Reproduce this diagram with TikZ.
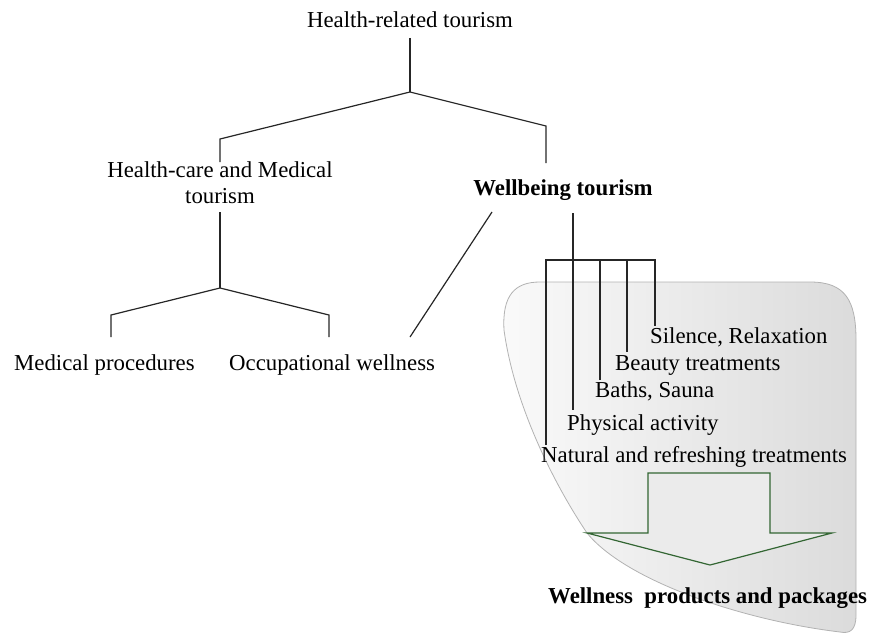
\documentclass[tikz,border=0pt]{standalone}
\usepackage{fontspec}
\setmainfont{Liberation Serif}
\begin{document}
\begin{tikzpicture}[x=1pt,y=-1pt,
  lbl/.style={inner sep=0pt,font=\fontsize{22.8}{26}\selectfont},
  tree/.style={line width=1.2pt,draw=black!85},
  blob/.style={draw=gray!60,line width=0.8pt,left color=gray!4,right color=gray!28},
  bigarrow/.style={draw=green!25!black!80,line width=1.2pt,fill=gray!16}]
\useasboundingbox (0,0) rectangle (872,634);
% shaded region
\path[blob] (540,282) -- (810,282) .. controls (845,282) and (856,300) .. (856,340)
  -- (856,615) .. controls (856,630) and (850,634) .. (840,632)
  .. controls (740,620) and (625,580) .. (587,533)
  .. controls (558,490) and (515,410) .. (504,330)
  .. controls (502,295) and (515,282) .. (540,282) -- cycle;
% labels
\node[lbl,anchor=base] (top) at (410,28) {Health-related tourism};
\node[lbl,anchor=base] (hc1) at (220,177) {Health-care and Medical};
\node[lbl,anchor=base] (hc2) at (220,203) {tourism};
\node[lbl,anchor=base,font=\fontsize{22.8}{26}\selectfont\bfseries] (wb) at (563,195) {Wellbeing tourism};
\node[lbl,anchor=base west] (mp) at (14,370) {Medical procedures};
\node[lbl,anchor=base west] (ow) at (229,370) {Occupational wellness};
\node[lbl,anchor=base west] (sr) at (650,343) {Silence, Relaxation};
\node[lbl,anchor=base west] (bt) at (615,370) {Beauty treatments};
\node[lbl,anchor=base west] (bs) at (595,397) {Baths, Sauna};
\node[lbl,anchor=base west] (pa) at (567,430) {Physical activity};
\node[lbl,anchor=base west] (nr) at (541,462) {Natural and refreshing treatments};
\node[lbl,anchor=base west,font=\fontsize{22.8}{26}\selectfont\bfseries] (wp) at (548,603) {Wellness\ \ products and packages};
% junction coordinates
\coordinate (t0) at (410,38);
\coordinate (t1) at (410,92);
\coordinate (tl) at (220,139);
\coordinate (tle) at (220,162);
\coordinate (tr) at (546,126);
\coordinate (tre) at (546,163);
\coordinate (h0) at (220,212);
\coordinate (h1) at (220,288);
\coordinate (hl) at (111,315);
\coordinate (hle) at (111,337);
\coordinate (hr) at (329,315);
\coordinate (hre) at (329,337);
\coordinate (owt) at (410,337);
\coordinate (wbl) at (492,212);
\coordinate (w0) at (573,213);
\coordinate (w1) at (573,410);
\coordinate (b1) at (546,260);
\coordinate (b1e) at (546,445);
\coordinate (b3) at (600,260);
\coordinate (b3e) at (600,380);
\coordinate (b4) at (627,260);
\coordinate (b4e) at (627,352);
\coordinate (b5) at (655,260);
\coordinate (b5e) at (655,326);
% tree lines
\draw[tree] (t0) -- (t1);
\draw[tree] (tle) -- (tl) -- (t1) -- (tr) -- (tre);
\draw[tree] (h0) -- (h1);
\draw[tree] (hle) -- (hl) -- (h1) -- (hr) -- (hre);
\draw[tree] (owt) -- (wbl);
\draw[tree] (w0) -- (w1);
\draw[tree] (b1e) -- (b1) -- (b5) -- (b5e);
\draw[tree] (b3) -- (b3e);
\draw[tree] (b4) -- (b4e);
% big arrow
\draw[bigarrow] (648,533) -- (648,473) -- (770,473) -- (770,533) -- (832,533) -- (710,565) -- (587,533) -- cycle;
\end{tikzpicture}
\end{document}
